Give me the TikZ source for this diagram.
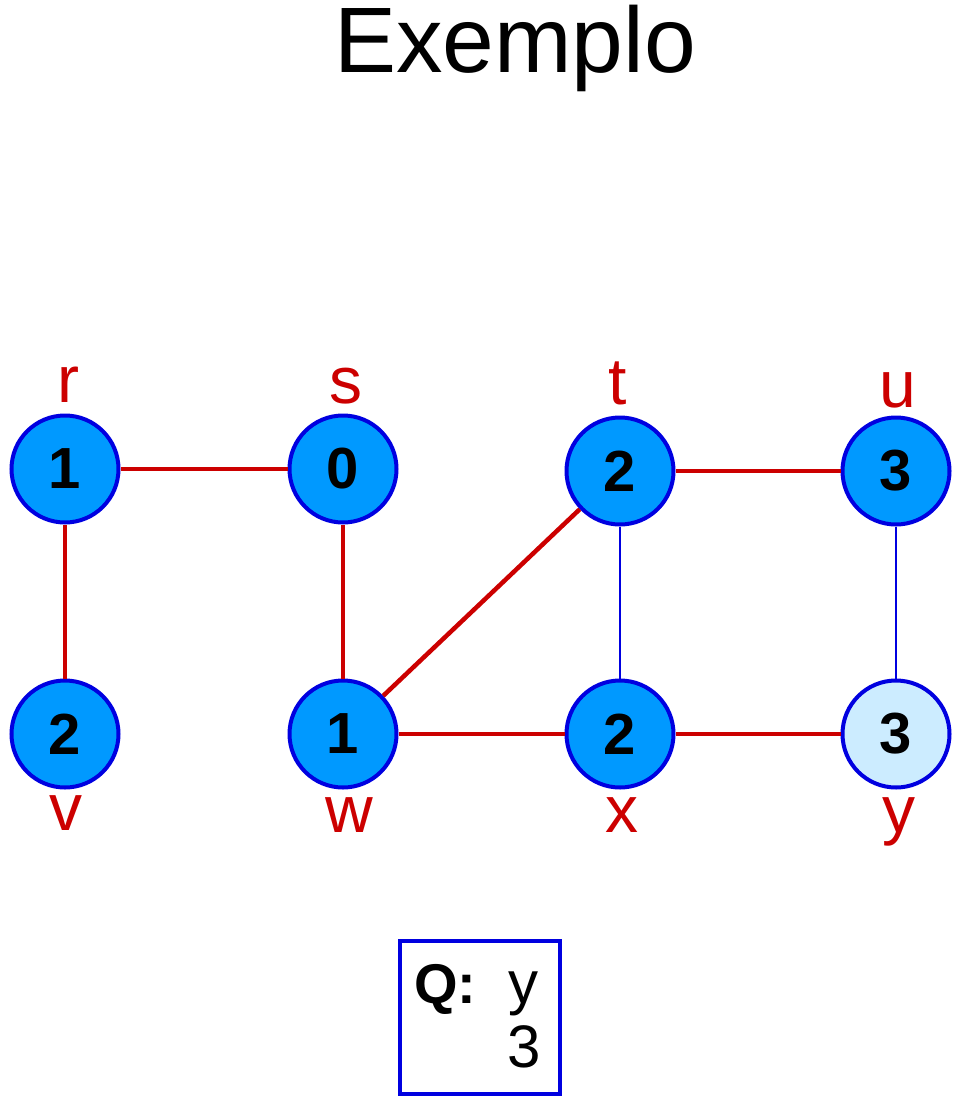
\documentclass[tikz,border=0pt]{standalone}
\usepackage{fontspec}
\setmainfont{Liberation Sans}
\definecolor{nodefill}{RGB}{0,153,255}
\definecolor{nodelight}{RGB}{204,236,255}
\definecolor{nodeborder}{RGB}{0,0,224}
\definecolor{treered}{RGB}{204,0,0}
\begin{document}
\begin{tikzpicture}[x=1pt,y=-1pt,
  vtx/.style={circle,draw=nodeborder,line width=4pt,fill=nodefill,minimum size=107pt,inner sep=0pt,font=\fontsize{58}{58}\selectfont\bfseries},
  vtxlight/.style={vtx,fill=nodelight},
  lbl/.style={anchor=base,text=treered,inner sep=0pt,font=\fontsize{66}{66}\selectfont},
  tree/.style={draw=treered,line width=4.5pt},
  back/.style={draw=nodeborder,line width=1.8pt}]
\useasboundingbox (0,0) rectangle (960,1100);
\node[anchor=base,inner sep=0pt,font=\fontsize{93}{93}\selectfont] (title) at (515,72) {Exemplo};
% vertices
\node[vtx] (r) at (65,469) {1};
\node[vtx] (s) at (343,469) {0};
\node[vtx] (t) at (620,471) {2};
\node[vtx] (u) at (896,471) {3};
\node[vtx] (v) at (65,734) {2};
\node[vtx] (w) at (343,734) {1};
\node[vtx] (x) at (620,734) {2};
\node[vtxlight] (y) at (896,734) {3};
% labels
\node[lbl] (lr) at (68,402) {r};
\node[lbl] (ls) at (346,403) {s};
\node[lbl] (lt) at (618,404) {t};
\node[lbl] (lu) at (898,407) {u};
\node[lbl] (lv) at (66,830) {v};
\node[lbl] (lw) at (349,832) {w};
\node[lbl] (lx) at (622,832) {x};
\node[lbl] (ly) at (899,832) {y};
% edges
\draw[tree] (r) -- (s);
\draw[tree] (r) -- (v);
\draw[tree] (s) -- (w);
\draw[tree] (w) -- (t);
\draw[tree] (t) -- (u);
\draw[tree] (w) -- (x);
\draw[tree] (x) -- (y);
\draw[back] (t) -- (x);
\draw[back] (u) -- (y);
% queue box
\node[draw=nodeborder,line width=4pt,minimum width=160pt,minimum height=153pt,inner sep=0pt] (q) at (479.5,1017.5) {};
\node[anchor=base west,inner sep=0pt,font=\fontsize{56}{56}\selectfont\bfseries] (qlabel) at (414,1003) {Q:};
\node[anchor=base west,inner sep=0pt,font=\fontsize{60}{60}\selectfont] (qy) at (508,1003) {y};
\node[anchor=base west,inner sep=0pt,font=\fontsize{60}{60}\selectfont] (q3) at (507,1067) {3};
\end{tikzpicture}
\end{document}
